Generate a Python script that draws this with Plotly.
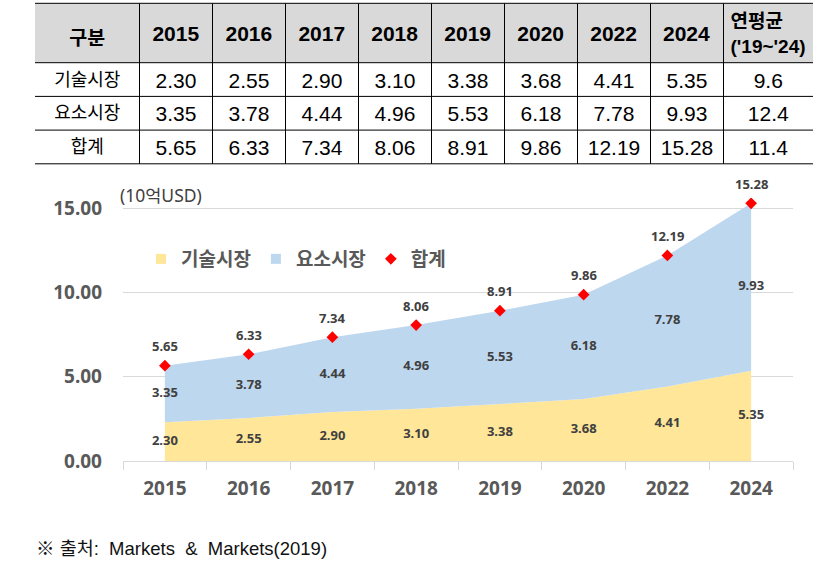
import plotly.graph_objects as go

# ---------------- data ----------------
years = ["2015", "2016", "2017", "2018", "2019", "2020", "2022", "2024"]
tech = [2.30, 2.55, 2.90, 3.10, 3.38, 3.68, 4.41, 5.35]
elem = [3.35, 3.78, 4.44, 4.96, 5.53, 6.18, 7.78, 9.93]
total = [5.65, 6.33, 7.34, 8.06, 8.91, 9.86, 12.19, 15.28]
row_labels = ["기술시장", "요소시장", "합계"]
first_header = "구분"
cagr_header = ["연평균", "('19~'24)"]
cagr = ["9.6", "12.4", "11.4"]
unit_label = "(10억USD)"
source_note = "※ 출처:  Markets  &  Markets(2019)"
y_ticks = [0, 5, 10, 15]

# ---------------- styling / geometry ----------------
W, H = 830, 571
YELLOW = "#FFE699"
BLUE = "#BDD7EE"
RED = "#FF0000"
LABEL = "#404040"
TICK = "#595959"
GRID = "#D9D9D9"
FONT = "Noto Sans, Noto Sans CJK KR"
TFONT = "Liberation Sans, Noto Sans CJK KR"
KFONT = "Noto Sans CJK KR"
TRANSP = "rgba(0,0,0,0)"
NOLINE = dict(width=0, color=TRANSP)

TBL_LEFT, TBL_TOP = 35.0, 3.3
HDR_H, ROW_H = 59.4, 33.7
col_w = [104.5] + [73.0] * len(years) + [89.5]
TBL_RIGHT = TBL_LEFT + sum(col_w)
TBL_BOTTOM = TBL_TOP + HDR_H + ROW_H * len(row_labels)
HDR_TXT_TOP = 13.5                       # text-row tops
CAGR_TXT_TOP = 3.0
BODY_TXT_TOPS = [64.3, 97.7, 131.1]


def px(x):
    return x / W


def py(y):
    return 1 - y / H


def text_row(values, font, top, height, x0, x1, widths=None):
    """one transparent go.Table row used to place table text"""
    return go.Table(
        domain=dict(x=[px(x0), px(x1)], y=[py(top + height + 4), py(top)]),
        columnwidth=widths,
        header=dict(values=values, height=height, align="center",
                    fill=dict(color=TRANSP), line=NOLINE, font=font),
        cells=dict(values=[]),
    )


fig = go.Figure()

# ---------------- table text ----------------
fig.add_trace(text_row(
    [f"<b>{first_header}</b>"] + [f"<b>{y}</b>" for y in years],
    dict(family=[KFONT] + [TFONT] * len(years), size=[19.5] + [21] * len(years), color="black"),
    HDR_TXT_TOP, 44, TBL_LEFT, TBL_LEFT + sum(col_w[:-1]), col_w[:-1]))
fig.add_trace(text_row(
    ["<b>" + cagr_header[0] + "</b><br><b>" + cagr_header[1] + "</b>"],
    dict(family=TFONT, size=19, color="black"),
    CAGR_TXT_TOP, 56, TBL_RIGHT - col_w[-1], TBL_RIGHT))

series_rows = [tech, elem, total]
body_font = dict(family=[KFONT] + [TFONT] * (len(years) + 1),
                 size=[18] + [21] * (len(years) + 1), color="black")
for r, (lab, vals) in enumerate(zip(row_labels, series_rows)):
    fig.add_trace(text_row(
        [lab] + [f"{v:.2f}" for v in vals] + [cagr[r]],
        body_font, BODY_TXT_TOPS[r], ROW_H, TBL_LEFT, TBL_RIGHT, col_w))

# ---------------- table rules ----------------
shapes = []
shapes.append(dict(type="rect", xref="paper", yref="paper", layer="below",
                   x0=px(TBL_LEFT), x1=px(TBL_RIGHT), y0=py(TBL_TOP + HDR_H), y1=py(TBL_TOP),
                   fillcolor="#D9D9D9", line=dict(width=0)))
for yy in [TBL_TOP, TBL_TOP + HDR_H] + [TBL_TOP + HDR_H + ROW_H * (k + 1) for k in range(len(row_labels))]:
    shapes.append(dict(type="line", xref="paper", yref="paper", layer="below",
                       x0=px(TBL_LEFT), x1=px(TBL_RIGHT), y0=py(yy), y1=py(yy),
                       line=dict(color="black", width=1)))
xx = TBL_LEFT
for w in col_w[:-1]:
    xx += w
    shapes.append(dict(type="line", xref="paper", yref="paper", layer="below",
                       x0=px(xx), x1=px(xx), y0=py(TBL_TOP), y1=py(TBL_BOTTOM),
                       line=dict(color="black", width=1)))

# ---------------- chart ----------------
fig.add_trace(go.Scatter(x=years, y=tech, stackgroup="one", mode="none",
                         fillcolor=YELLOW, name=row_labels[0], showlegend=False, hoverinfo="skip"))
fig.add_trace(go.Scatter(x=years, y=elem, stackgroup="one", mode="none",
                         fillcolor=BLUE, name=row_labels[1], showlegend=False, hoverinfo="skip"))

# legend entries
fig.add_trace(go.Scatter(x=[None], y=[None], mode="markers", name=row_labels[0],
                         marker=dict(symbol="square", size=10, color=YELLOW)))
fig.add_trace(go.Scatter(x=[None], y=[None], mode="markers", name=row_labels[1],
                         marker=dict(symbol="square", size=10, color=BLUE)))
fig.add_trace(go.Scatter(x=years, y=total, mode="markers", name=row_labels[2],
                         marker=dict(symbol="diamond", size=9, color=RED), hoverinfo="skip"))

# data labels centered in their segment
lab_font = dict(family=FONT, size=13, color=LABEL, weight="bold")
fig.add_trace(go.Scatter(x=years, y=[t / 2 for t in tech], mode="text",
                         text=[f"{t:.2f}" for t in tech], textfont=lab_font,
                         showlegend=False, hoverinfo="skip"))
fig.add_trace(go.Scatter(x=years, y=[t + e / 2 for t, e in zip(tech, elem)], mode="text",
                         text=[f"{e:.2f}" for e in elem], textfont=lab_font,
                         showlegend=False, hoverinfo="skip"))

annotations = []
for i, tv in enumerate(total):
    annotations.append(dict(x=i, y=tv, xref="x", yref="y", text=f"{tv:.2f}",
                            showarrow=False, yshift=19.5, yanchor="middle",
                            font=lab_font))
annotations.append(dict(x=px(118), y=py(195), xref="paper", yref="paper", text=unit_label,
                        showarrow=False, xanchor="left", yanchor="middle",
                        font=dict(family=FONT, size=17.5, color=LABEL)))
annotations.append(dict(x=px(34), y=py(548), xref="paper", yref="paper", text=source_note,
                        showarrow=False, xanchor="left", yanchor="middle",
                        font=dict(family="Liberation Sans, Noto Sans CJK KR", size=18.5, color="#111111")))

PLOT_L, PLOT_R, Y0_PX, Y15_PX = 123, 793, 461, 208
YMAX = 15.6
ppu = (Y0_PX - Y15_PX) / 15
top_px = Y0_PX - YMAX * ppu

fig.update_layout(
    width=W, height=H,
    margin=dict(l=0, r=0, t=0, b=0, autoexpand=False),
    paper_bgcolor="white", plot_bgcolor="white",
    shapes=shapes, annotations=annotations,
    showlegend=True,
    legend=dict(orientation="h", x=px(141), y=py(259), xanchor="left", yanchor="middle",
                font=dict(family=FONT, size=19, color=TICK, weight="bold"),
                bgcolor=TRANSP, itemwidth=30, traceorder="normal"),
    xaxis=dict(type="category", domain=[px(PLOT_L), px(PLOT_R)], range=[-0.5, len(years) - 0.5],
               showline=True, linecolor=GRID, linewidth=1, ticks="outside", tickson="boundaries",
               ticklen=8, tickcolor=GRID, showgrid=False, ticklabelstandoff=10, automargin=False,
               tickfont=dict(family=FONT, size=19, color=TICK, weight="bold"), fixedrange=True),
    yaxis=dict(domain=[py(Y0_PX), py(top_px)], range=[0, YMAX], tickvals=y_ticks, tickformat=".2f",
               showgrid=True, gridcolor=GRID, gridwidth=1, zeroline=False, showline=False,
               ticklabelstandoff=20, automargin=False,
               tickfont=dict(family=FONT, size=19, color=TICK, weight="bold"), fixedrange=True),
)

fig.write_html("out.html", config={"displayModeBar": False},
               post_script="document.body.style.margin='0px';")
